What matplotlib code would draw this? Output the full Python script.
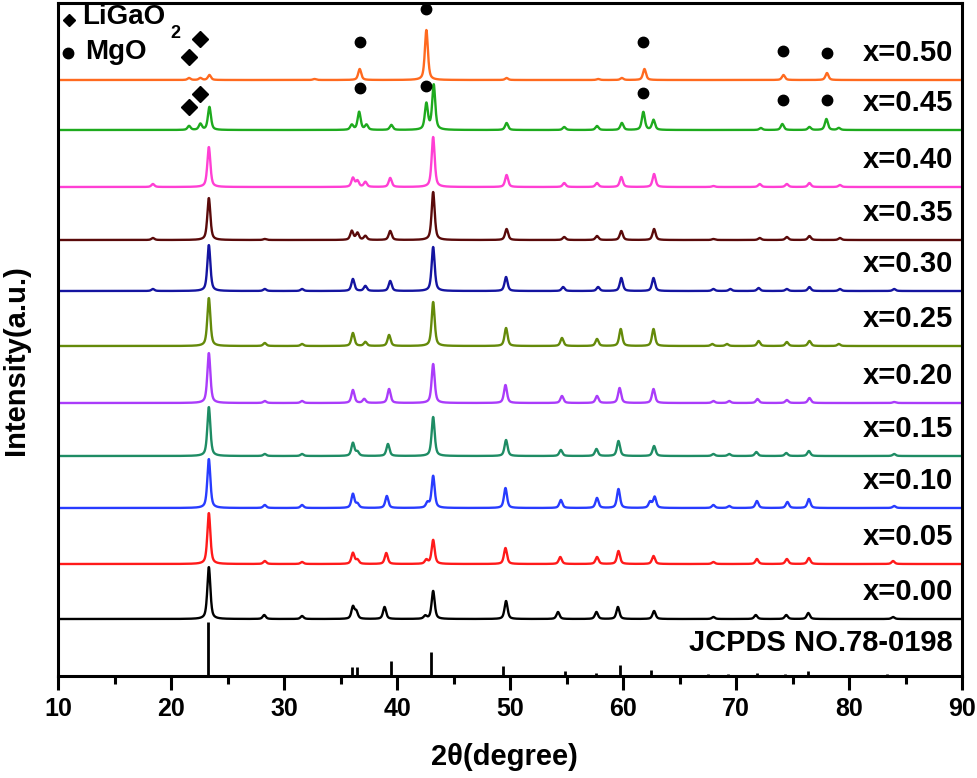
import numpy as np
import matplotlib.pyplot as plt

plt.rcParams['font.family'] = ['Liberation Sans', 'DejaVu Sans']
plt.rcParams['font.weight'] = 'bold'

# sample labels, colours and vertical offsets (bottom to top)
labels = ["x=0.00", "x=0.05", "x=0.10", "x=0.15", "x=0.20", "x=0.25",
          "x=0.30", "x=0.35", "x=0.40", "x=0.45", "x=0.50"]
colors = ["#000000", "#FF1A1A", "#283CFF", "#1E8C64", "#AA3CFA", "#648A0A",
          "#1414A0", "#5A0A0A", "#FF3FD4", "#1EAA1E", "#FF6A1F"]
offsets = [57, 112, 168, 220, 273, 330, 385, 436, 489, 546, 596]

# peak positions (2theta) and heights
pos_000 = [23.35, 28.25, 31.6, 36.1, 36.4, 38.9, 42.5, 43.2, 49.65, 54.25, 57.65, 59.55, 62.75, 68.0, 71.75, 74.45, 76.4, 83.9]
hgt_000 = [52, 4, 3, 12, 7, 12, 3, 28, 18, 7, 7, 12, 8, 2, 4, 4, 6, 2]
pos_005 = [23.35, 28.3, 31.6, 36.1, 36.5, 39.05, 42.6, 43.2, 49.6, 54.45, 57.7, 59.6, 62.7, 68.0, 71.85, 74.5, 76.45, 83.9]
hgt_005 = [51, 3, 2, 11, 4, 11, 4, 24, 16, 7, 7, 13, 8, 2, 5, 5, 6, 3]
pos_010 = [23.35, 28.3, 31.6, 36.1, 36.5, 39.1, 42.7, 43.2, 49.6, 54.5, 57.7, 59.6, 62.4, 62.8, 68.0, 69.4, 71.85, 74.55, 76.45, 84.0]
hgt_010 = [49, 3, 3, 14, 4, 12, 5, 32, 20, 8, 10, 19, 6, 11, 3, 2, 7, 6, 9, 2]
pos_015 = [23.35, 28.3, 31.6, 36.1, 36.5, 39.2, 43.2, 49.65, 54.5, 57.65, 59.6, 62.75, 68.0, 69.4, 71.8, 74.45, 76.45, 84.0]
hgt_015 = [49, 2, 2, 13, 4, 12, 39, 16, 6, 7, 15, 10, 2, 2, 4, 3, 5, 2]
pos_020 = [23.35, 28.3, 31.6, 36.1, 37.1, 39.3, 43.2, 49.6, 54.6, 57.7, 59.7, 62.7, 68.0, 69.4, 71.9, 74.5, 76.5, 84.0]
hgt_020 = [50, 2, 2, 13, 4, 14, 39, 18, 7, 7, 15, 14, 2, 2, 4, 3, 5, 1]
pos_025 = [23.35, 28.3, 31.6, 36.1, 37.2, 39.3, 43.2, 49.65, 54.6, 57.7, 59.8, 62.7, 67.9, 69.2, 72.0, 74.5, 76.5, 79.1]
hgt_025 = [48, 3, 2, 13, 4, 11, 44, 18, 8, 7, 17, 17, 2, 2, 5, 4, 5, 2]
pos_030 = [18.4, 23.35, 28.3, 31.6, 36.1, 37.2, 39.4, 43.2, 49.65, 54.7, 57.8, 59.85, 62.7, 68.0, 69.5, 72.0, 74.5, 76.5, 79.2, 84.0]
hgt_030 = [2, 46, 2, 2, 12, 5, 10, 44, 14, 4, 4, 13, 13, 2, 2, 3, 2, 4, 2, 2]
pos_035 = [18.4, 23.35, 28.3, 36.0, 36.5, 37.2, 39.4, 43.2, 49.7, 54.8, 57.7, 59.85, 62.75, 68.0, 72.1, 74.5, 76.5, 79.2]
hgt_035 = [2, 42, 1, 9, 7, 4, 9, 48, 11, 3, 4, 9, 11, 1, 2, 3, 4, 2]
pos_040 = [18.4, 23.35, 36.1, 36.5, 37.2, 39.4, 43.2, 49.7, 54.8, 57.7, 59.85, 62.75, 68.0, 72.1, 74.5, 76.5, 79.2]
hgt_040 = [3, 40, 9, 6, 5, 9, 50, 12, 4, 4, 10, 13, 1, 3, 3, 4, 2]
pos_045 = [21.6, 22.6, 23.4, 36.0, 36.65, 37.3, 39.5, 42.6, 43.25, 49.7, 54.8, 57.7, 59.9, 61.8, 62.7, 72.2, 74.1, 76.5, 78.0, 79.1]
hgt_045 = [4, 6, 23, 5, 18, 5, 5, 26, 45, 7, 3, 4, 7, 18, 10, 2, 6, 3, 11, 2]
pos_050 = [21.6, 22.6, 23.4, 32.7, 36.7, 42.6, 49.7, 57.8, 59.9, 61.9, 74.2, 78.05]
hgt_050 = [2, 2, 5, 1, 11, 50, 2, 1, 2, 11, 5, 7]

positions = [pos_000, pos_005, pos_010, pos_015, pos_020, pos_025,
             pos_030, pos_035, pos_040, pos_045, pos_050]
heights = [hgt_000, hgt_005, hgt_010, hgt_015, hgt_020, hgt_025,
           hgt_030, hgt_035, hgt_040, hgt_045, hgt_050]

# JCPDS NO.78-0198 reference lines
ref_pos = [23.3, 36.05, 36.45, 39.5, 43.0, 49.4, 54.9, 57.6, 59.7, 62.5, 67.5, 69.3, 71.9, 74.3, 76.4, 83.4, 87.6]
ref_hgt = [54, 9, 9, 15, 24, 10, 5, 3, 11, 6, 2, 2, 3, 2, 5, 2, 1]

# impurity markers: positions and heights above the baseline
mgo_pos = [36.7, 42.57, 61.77, 74.16, 78.05]
mgo_h_045 = [42, 44, 37, 30, 30]
mgo_h_050 = [38, 71, 38, 29, 27]
ligao2_pos = [21.6, 22.55]
ligao2_h_045 = [23, 36]
ligao2_h_050 = [23, 41]


def pattern(x, pos, hgt, fwhm=0.32, eta=0.6):
    y = np.zeros_like(x)
    for p, h in zip(pos, hgt):
        g = np.exp(-4 * np.log(2) * ((x - p) / fwhm) ** 2)
        l = 1 / (1 + 4 * ((x - p) / fwhm) ** 2)
        y += h * (eta * l + (1 - eta) * g)
    return y


x = np.arange(10, 90.001, 0.02)

fig = plt.figure(figsize=(9.78, 7.78), dpi=100)
ax = fig.add_axes([58 / 978, 102 / 778, 904 / 978, 673 / 778])

for pos, hgt, off, col, lab in zip(positions, heights, offsets, colors, labels):
    ax.plot(x, off + pattern(x, pos, hgt), color=col, lw=1.7)
    ax.text(89.2, off + 27, lab, ha='right', va='center', fontsize=21, fontweight='bold')

ax.vlines(ref_pos, 0, ref_hgt, color='k', lw=2)
ax.text(89.2, 33, "JCPDS NO.78-0198", ha='right', va='center', fontsize=21, fontweight='bold')

# markers above the impurity peaks
ax.plot(mgo_pos, np.array(mgo_h_050) + offsets[10], 'o', color='k', ms=7.5)
ax.plot(mgo_pos, np.array(mgo_h_045) + offsets[9], 'o', color='k', ms=7.5)
ax.plot(ligao2_pos, np.array(ligao2_h_050) + offsets[10], 'D', color='k', ms=8)
ax.plot(ligao2_pos, np.array(ligao2_h_045) + offsets[9], 'D', color='k', ms=8)

# legend in the top left corner
ax.plot([10.97], [656], 'D', color='k', ms=6.5, clip_on=False)
ax.text(12.1, 659, "LiGaO", ha='left', va='center', fontsize=20, fontweight='bold')
ax.text(20.35, 643, "2", ha='center', va='center', fontsize=13, fontweight='bold')
ax.plot([10.9], [623], 'o', color='k', ms=7.5, clip_on=False)
ax.text(12.4, 624, "MgO", ha='left', va='center', fontsize=20, fontweight='bold')

ax.set_xlim(10, 90)
ax.set_ylim(0, 673)
ax.set_yticks([])
ax.set_xticks(np.arange(10, 91, 10))
ax.set_xticks(np.arange(15, 90, 10), minor=True)
ax.tick_params(axis='x', which='major', direction='out', length=10, width=2.2,
               labelsize=18, pad=5)
ax.tick_params(axis='x', which='minor', direction='out', length=6, width=2.2)
for t in ax.get_xticklabels():
    t.set_fontweight('bold')
for s in ax.spines.values():
    s.set_linewidth(2.2)

ax.set_xlabel("2θ(degree)", fontsize=21, fontweight='bold')
ax.xaxis.set_label_coords(0.494, -0.1)
ax.set_ylabel("Intensity(a.u.)", fontsize=21, fontweight='bold')
ax.yaxis.set_label_coords(-0.031, 0.47)

fig.savefig("out.png", dpi=100)
